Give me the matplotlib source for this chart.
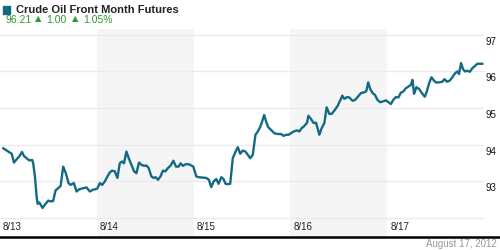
import matplotlib.pyplot as plt
from matplotlib.lines import Line2D
from matplotlib.transforms import blended_transform_factory, offset_copy

# trading days shown on the x axis (one unit per day)
days = ["8/13", "8/14", "8/15", "8/16", "8/17"]

# time in days since the 8/13 open
t = [0.034, 0.086, 0.121, 0.144, 0.172, 0.199, 0.227, 0.247, 0.275, 0.302,
     0.333, 0.343, 0.361, 0.378, 0.389, 0.405, 0.420, 0.440, 0.464, 0.498,
     0.523, 0.549, 0.574, 0.601, 0.626, 0.653, 0.680, 0.708, 0.729, 0.763,
     0.791, 0.818, 0.859, 0.894, 0.928, 0.962, 0.997, 1.007, 1.031, 1.055,
     1.082, 1.110, 1.134, 1.158, 1.186, 1.213, 1.237, 1.261, 1.281, 1.306,
     1.330, 1.358, 1.385, 1.409, 1.436, 1.461, 1.488, 1.512, 1.536, 1.564,
     1.588, 1.608, 1.632, 1.657, 1.684, 1.708, 1.735, 1.763, 1.791, 1.818,
     1.845, 1.866, 1.890, 1.914, 1.941, 1.969, 1.997, 2.007, 2.028, 2.055,
     2.096, 2.131, 2.158, 2.182, 2.206, 2.234, 2.258, 2.286, 2.309, 2.330,
     2.354, 2.378, 2.405, 2.433, 2.457, 2.481, 2.508, 2.536, 2.560, 2.585,
     2.611, 2.639, 2.663, 2.688, 2.708, 2.729, 2.749, 2.770, 2.801, 2.835,
     2.869, 2.904, 2.928, 2.956, 2.982, 3.000, 3.034, 3.069, 3.093, 3.116,
     3.144, 3.172, 3.186, 3.213, 3.240, 3.265, 3.299, 3.323, 3.351, 3.374,
     3.402, 3.426, 3.454, 3.488, 3.515, 3.536, 3.557, 3.585, 3.608, 3.642,
     3.667, 3.694, 3.729, 3.763, 3.784, 3.804, 3.825, 3.849, 3.873, 3.900,
     3.928, 3.956, 3.987, 4.013, 4.038, 4.062, 4.090, 4.116, 4.141, 4.165,
     4.193, 4.220, 4.244, 4.261, 4.278, 4.302, 4.330, 4.358, 4.389, 4.409,
     4.433, 4.457, 4.477, 4.502, 4.536, 4.570, 4.591, 4.616, 4.646, 4.673,
     4.701, 4.725, 4.742, 4.763, 4.784, 4.804, 4.828, 4.853, 4.880, 4.907,
     4.931, 4.966, 4.982]

price = [93.90, 93.81, 93.75, 93.51, 93.60, 93.68, 93.80, 93.69, 93.63, 93.57,
         93.58, 93.49, 93.13, 92.58, 92.38, 92.42, 92.36, 92.27, 92.36, 92.47,
         92.45, 92.46, 92.75, 92.81, 92.87, 93.40, 93.22, 92.95, 92.90, 92.95,
         92.72, 92.78, 92.81, 92.83, 92.72, 92.77, 92.79, 92.81, 92.95, 92.90,
         92.99, 93.13, 93.24, 93.29, 93.27, 93.09, 93.49, 93.54, 93.49, 93.81,
         93.63, 93.45, 93.27, 93.22, 93.51, 93.45, 93.42, 93.43, 93.36, 93.13,
         93.09, 93.11, 93.04, 93.13, 93.29, 93.27, 93.36, 93.43, 93.56, 93.40,
         93.40, 93.49, 93.42, 93.46, 93.47, 93.44, 93.40, 93.31, 93.13, 93.11,
         93.10, 93.09, 93.04, 92.84, 92.99, 93.06, 92.93, 93.11, 93.06, 92.93,
         92.92, 92.93, 93.63, 93.81, 93.93, 93.75, 93.84, 93.81, 93.72, 93.63,
         93.72, 94.27, 94.36, 94.48, 94.63, 94.81, 94.63, 94.48, 94.40, 94.31,
         94.29, 94.29, 94.24, 94.27, 94.27, 94.30, 94.36, 94.39, 94.36, 94.45,
         94.51, 94.60, 94.79, 94.70, 94.59, 94.60, 94.27, 94.45, 94.59, 95.02,
         94.84, 94.84, 94.93, 95.06, 95.21, 95.34, 95.25, 95.30, 95.29, 95.20,
         95.22, 95.30, 95.41, 95.43, 95.46, 95.70, 95.52, 95.41, 95.36, 95.22,
         95.16, 95.18, 95.21, 95.16, 95.11, 95.22, 95.30, 95.29, 95.42, 95.45,
         95.54, 95.59, 95.63, 95.77, 95.39, 95.57, 95.52, 95.41, 95.31, 95.45,
         95.68, 95.84, 95.77, 95.70, 95.70, 95.72, 95.79, 95.72, 95.75, 95.84,
         95.95, 96.00, 95.93, 96.23, 96.06, 96.00, 96.02, 95.99, 96.09, 96.15,
         96.21, 96.21, 96.21]

grid_levels = [92, 93, 94, 95, 96, 97]
label_levels = [93, 94, 95, 96, 97]

title = "Crude Oil Front Month Futures"
last, change, pct = "96.21", "1.00", "1.05%"
stamp = "August 17, 2012"

line_color = "#136a85"
green = "#2e9a2e"

plt.rcParams["font.family"] = ["Liberation Sans", "DejaVu Sans"]

fig = plt.figure(figsize=(5, 2.5), dpi=100)
W, H = 500, 250
ax = fig.add_axes([0, 1 - 236.5 / H, 484 / W, (236.5 - 29) / H])
ax.set_xlim(0, 5)
ax.set_ylim(91.49, 97.16)

# alternating day shading
for i in range(1, len(days), 2):
    ax.axvspan(i, i + 1, color="#f5f5f5", lw=0, zorder=0)

for g in grid_levels:
    ax.axhline(g, color="#ebebeb", lw=1, zorder=1)

ax.plot(t, price, color=line_color, lw=1.7, zorder=3,
        solid_joinstyle="round")

for s in ax.spines.values():
    s.set_visible(False)
ax.set_xticks([])
ax.set_yticks([])

# price labels to the right, just under each grid line
trans = blended_transform_factory(ax.transAxes, ax.transData)
for v in label_levels:
    ax.text(1.0, v, str(v), transform=offset_copy(trans, fig, x=1, y=-2, units="dots"),
            ha="left", va="top", fontsize=7, color="#111111", clip_on=False)

# day labels along the bottom inside the plot
trans_x = blended_transform_factory(ax.transData, ax.transAxes)
for i, d in enumerate(days):
    ax.text(i, 0, d, transform=offset_copy(trans_x, fig, x=3, y=4, units="dots"),
            ha="left", va="bottom", fontsize=7, color="#222222")

# bottom rule
fig.add_artist(Line2D([0, 1], [1 - 236.8 / H] * 2, color="black", lw=1.8))

# header
fig.patches.append(plt.Rectangle((3 / W, 1 - 13.5 / H), 7 / W, 7 / H,
                                 transform=fig.transFigure, color=line_color))
fig.text(15.5 / W, 1 - 10 / H, title, fontsize=8, fontweight="bold",
         color="#222222", va="center", ha="left")
fig.text(5 / W, 1 - 20 / H, last, fontsize=7.5, color=green, va="center")
fig.text(34.5 / W, 1 - 19 / H, "\u25b2", fontsize=6, color=green, va="center",
         family="DejaVu Sans")
fig.text(46 / W, 1 - 20 / H, change, fontsize=7.5, color=green, va="center")
fig.text(72 / W, 1 - 19 / H, "\u25b2", fontsize=6, color=green, va="center",
         family="DejaVu Sans")
fig.text(83 / W, 1 - 20 / H, pct, fontsize=7.5, color=green, va="center")

fig.text(497 / W, 1 - 244 / H, stamp, fontsize=7, color="#999999",
         ha="right", va="center")

fig.savefig("out.png", dpi=100)
